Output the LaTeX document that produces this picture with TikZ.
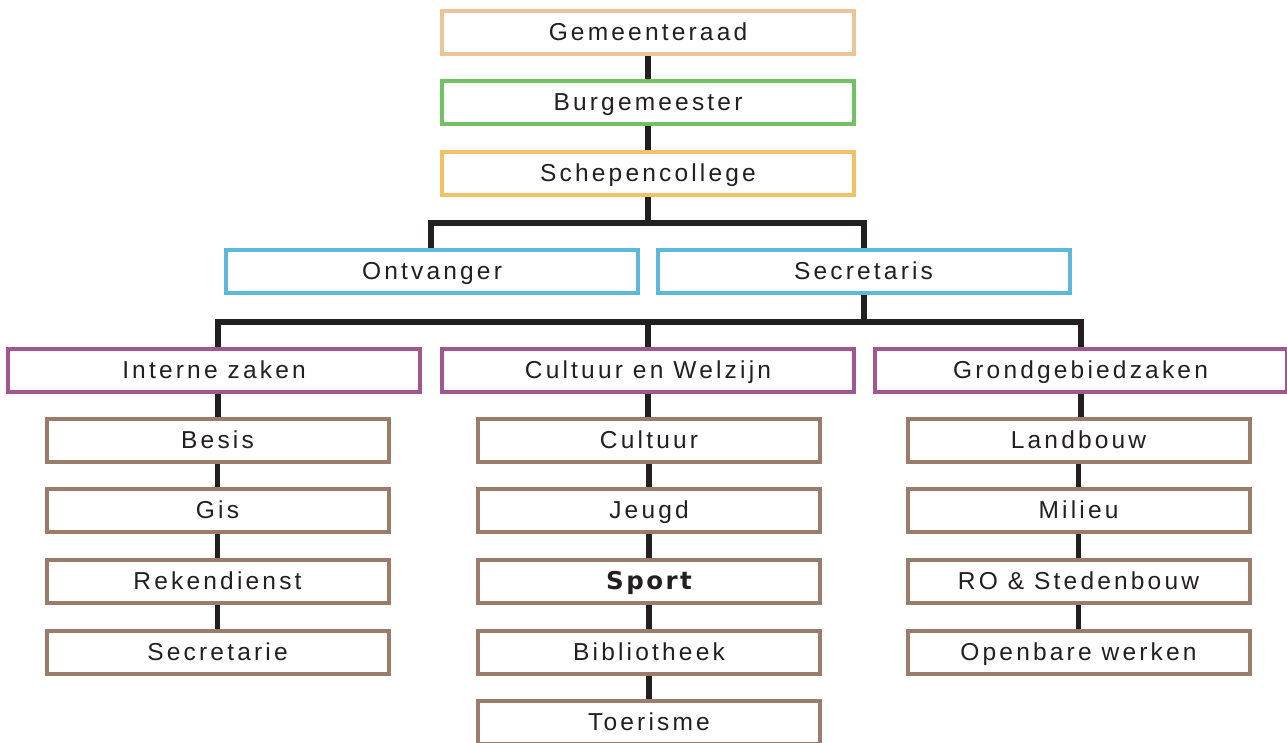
\documentclass[tikz,border=0pt]{standalone}
\usepackage{fontspec}
\setmainfont{Liberation Sans}[LetterSpace=13]
\newfontfamily\sportfont{DejaVu Sans}[LetterSpace=10]
\definecolor{peach}{HTML}{ECC49A}
\definecolor{grn}{HTML}{72C164}
\definecolor{orng}{HTML}{F3C165}
\definecolor{blu}{HTML}{5DB9D9}
\definecolor{purp}{HTML}{A0578F}
\definecolor{brwn}{HTML}{9B7C6B}
\definecolor{txt}{HTML}{231F20}
\begin{document}
\begin{tikzpicture}[x=1pt,y=-1pt,
  box/.style={draw, line width=4pt, fill=white, minimum width=412pt, minimum height=43pt,
    inner sep=0pt, text=txt, text height=18pt, text depth=2pt,
    font=\fontsize{24.5}{24.5}\selectfont},
  sbox/.style={box, draw=brwn, minimum width=342pt},
  conn/.style={draw=txt, line width=5.5pt}]
\useasboundingbox (0,0) rectangle (1287,742);
\clip (0,0) rectangle (1287,742);
% top chain
\node[box, draw=peach] (ger) at (648,32) {Gemeenteraad};
\node[box, draw=grn] (bur) at (648,102.5) {Burgemeester};
\node[box, draw=orng] (sch) at (648,173) {Schepencollege};
\node[box, draw=blu] (ont) at (432,271) {Ontvanger};
\node[box, draw=blu] (sec) at (863.5,271) {Secretaris};
\node[box, draw=purp] (int) at (214,370) {Interne zaken};
\node[box, draw=purp] (cul) at (648,370) {Cultuur en Welzijn};
\node[box, draw=purp] (gro) at (1080.5,370) {Grondgebiedzaken};
% left column
\node[sbox] (l1) at (217.5,440.5) {Besis};
\node[sbox] (l2) at (217.5,510.5) {Gis};
\node[sbox] (l3) at (217.5,581.5) {Rekendienst};
\node[sbox] (l4) at (217.5,652) {Secretarie};
% middle column
\node[sbox] (m1) at (649,440.5) {Cultuur};
\node[sbox] (m2) at (649,510.5) {Jeugd};
\node[sbox] (m3) at (649,581.5) {\sportfont\bfseries Sport};
\node[sbox] (m4) at (649,652) {Bibliotheek};
\node[sbox] (m5) at (649,722) {Toerisme};
% right column
\node[sbox] (r1) at (1078.5,440.5) {Landbouw};
\node[sbox] (r2) at (1078.5,510.5) {Milieu};
\node[sbox] (r3) at (1078.5,581.5) {RO \& Stedenbouw};
\node[sbox] (r4) at (1078.5,652) {Openbare werken};
% connectors
\coordinate (j1) at (648,223);
\coordinate (j2) at (864,322);
\coordinate (cL) at (218,322);
\coordinate (cM) at (648,322);
\coordinate (cR) at (1081,322);
\coordinate (xo) at (431,0);
\coordinate (xs) at (864,0);
\draw[conn] (ger) -- (bur);
\draw[conn] (bur) -- (sch);
\draw[conn] (sch.south) -- (j1);
\draw[conn] (ont.north -| xo) |- (j1) -| (sec.north -| xs);
\draw[conn] (sec.south -| j2) -- (j2);
\draw[conn] (int.north -| cL) |- (cR) -- (cR |- gro.north);
\draw[conn] (cul.north -| cM) -- (cM);
\draw[conn] (int.south -| cL) -- (cL |- l1.north);
\draw[conn] (cul.south -| cM) -- (cM |- m1.north);
\draw[conn] (gro.south -| cR) -- (cR |- r1.north);
\foreach \a/\b in {l1/l2,l2/l3,l3/l4,m1/m2,m2/m3,m3/m4,m4/m5,r1/r2,r2/r3,r3/r4}{
  \draw[conn] (\a) -- (\b);
}
\end{tikzpicture}
\end{document}
